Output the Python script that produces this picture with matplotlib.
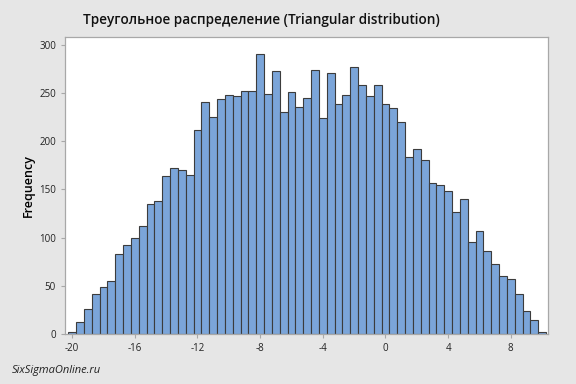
"""
Histogram of a triangular distribution, Minitab-like look.
Saves out.png (576x384).
"""
import matplotlib
matplotlib.use("Agg")
import matplotlib.pyplot as plt
import numpy as np

# bin centers step 0.5 from -20 to 10
bin_start = -20.0
bin_width = 0.5
counts = [
    2, 13, 26, 42, 49, 55, 83, 92, 100, 112, 135, 138,
    164, 172, 170, 165, 212, 241, 225, 244, 248, 247, 252, 252,
    290, 249, 273, 230, 251, 235, 245, 274, 224, 271, 239, 248,
    277, 258, 247, 258, 239, 234, 220, 184, 192, 180, 157, 155,
    148, 127, 140, 95, 107, 86, 73, 60, 57, 42, 24, 15, 2,
]
x_ticks = [-20, -16, -12, -8, -4, 0, 4, 8]
y_ticks = [0, 50, 100, 150, 200, 250, 300]

title = "Треугольное распределение (Triangular distribution)"
ylabel = "Frequency"
watermark = "SixSigmaOnline.ru"

BG = "#e6e6e6"
BAR = "#7ba5d9"
EDGE = "#3c3c3c"
AXIS = "#a8a8a8"


def main():
    plt.rcParams["font.family"] = ["Open Sans", "DejaVu Sans"]
    fig = plt.figure(figsize=(5.76, 3.84), dpi=100, facecolor=BG)
    ax = fig.add_axes([0.113, 0.130, 0.838, 0.773])

    centers = bin_start + bin_width * np.arange(len(counts))
    ax.bar(centers, counts, width=bin_width, color=BAR,
           edgecolor=EDGE, linewidth=0.8)

    ax.set_xlim(-20.45, 10.36)
    ax.set_ylim(0, 307.7)
    ax.set_xticks(x_ticks)
    ax.set_yticks(y_ticks)
    ax.set_xticklabels([str(t) for t in x_ticks])
    ax.tick_params(labelsize=7, colors=AXIS, labelcolor="#222222",
                   length=3, width=0.8)
    for s in ax.spines.values():
        s.set_color(AXIS)
        s.set_linewidth(0.9)

    ax.set_ylabel(ylabel, fontsize=9, fontweight="semibold", labelpad=3)
    fig.text(0.453, 0.948, title, ha="center", va="center",
             fontsize=9.8, fontweight="semibold", color="#111111")
    fig.text(0.02, 0.035, watermark, ha="left", va="center",
             fontsize=8, style="italic", color="#222222")

    fig.savefig("out.png", dpi=100, facecolor=BG)
    plt.close(fig)


if __name__ == "__main__":
    main()
